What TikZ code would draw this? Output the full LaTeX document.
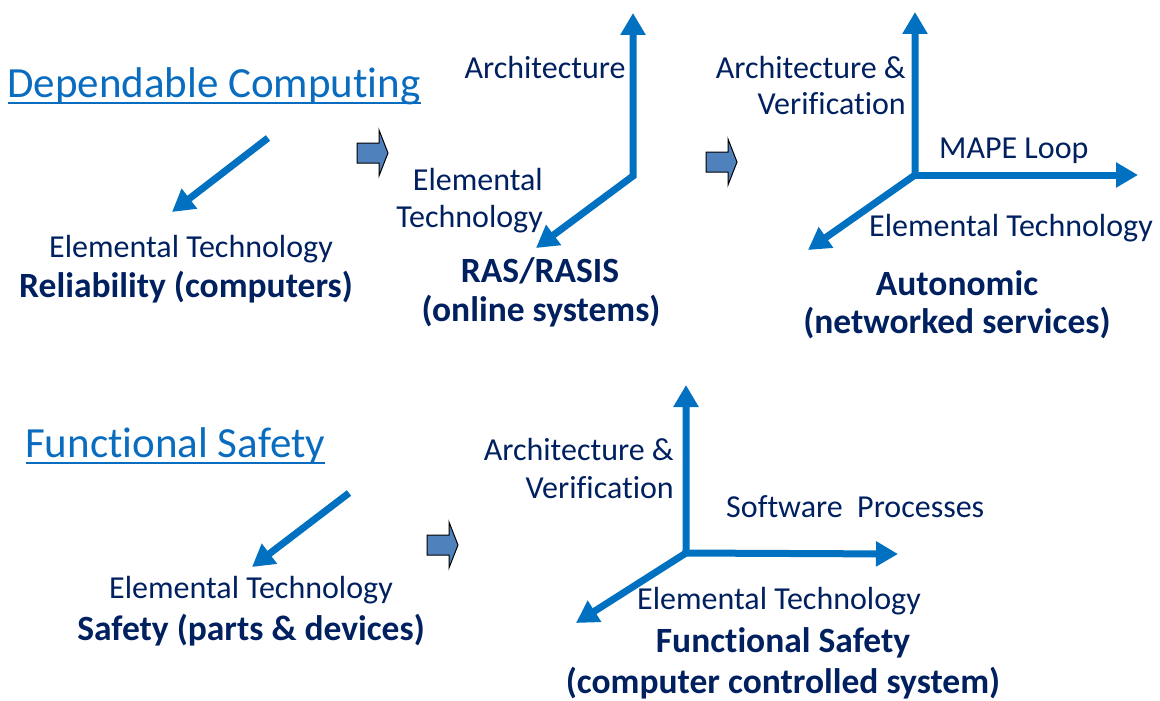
\documentclass[tikz,border=0pt]{standalone}
\usepackage{fontspec}
\setmainfont[Ligatures={NoCommon}]{Carlito}
\usetikzlibrary{arrows.meta,calc}
\definecolor{axisblue}{RGB}{0,112,192}
\definecolor{navy}{RGB}{0,32,96}
\definecolor{linkblue}{RGB}{10,108,190}
\definecolor{stepfill}{RGB}{79,129,189}
\begin{document}
\begin{tikzpicture}[x=1pt,y=-1pt,
  lbl/.style={text=navy, font=\fontsize{32}{38}\selectfont, inner sep=0pt},
  boldlbl/.style={text=navy, font=\fontsize{35.5}{42}\selectfont\bfseries, inner sep=0pt},
  title/.style={text=linkblue, font=\fontsize{43}{50}\selectfont, inner sep=0pt},
  uline/.style={draw=linkblue, line width=2.6pt},
  axis/.style={draw=axisblue, line width=7pt, line join=miter,
    arrows={-{Triangle[width=24pt,length=22pt]}}},
  axis2/.style={draw=axisblue, line width=7pt, line join=miter,
    arrows={{Triangle[width=24pt,length=22pt]}-{Triangle[width=24pt,length=22pt]}}},
  stepper/.style={draw=black, line width=1pt, fill=stepfill, line join=miter}]
\useasboundingbox (0,0) rectangle (1160,701);

% ---------- Dependable computing: three stages ----------
\node[title, anchor=base west] (t1) at (7,98) {Dependable Computing};
\draw[uline] ($(t1.base west)+(1,5)$) -- ($(t1.base east)+(0,5)$);

% stage 1: reliability
\coordinate (a1s) at (268,138);
\coordinate (a1e) at (172,212);
\draw[axis] (a1s) -- (a1e);
\node[lbl, anchor=base] (r1) at (191,257) {Elemental Technology};
\node[boldlbl, anchor=base] (r2) at (186,297) {Reliability (computers)};

% step arrow 1
\coordinate (s1) at (357,153);
\draw[stepper, shift={(s1)}] (0,-10) -- (22,-10) -- (22,-23) -- (31,0) -- (22,23) -- (22,10) -- (0,10) -- cycle;

% stage 2: RAS/RASIS
\coordinate (o2) at (633,176);
\coordinate (u2) at (633,13);
\coordinate (d2) at (536,248);
\draw[axis2] (u2) -- (o2) -- (d2);
\node[lbl, anchor=base] (ra) at (545,78) {Architecture};
\node[lbl, anchor=base east] (rb) at (543,190) {Elemental};
\node[lbl, anchor=base east] (rc) at (543,227) {Technology};
\node[boldlbl, anchor=base] (rd) at (540,282) {RAS/RASIS};
\node[boldlbl, anchor=base] (re) at (541,321) {(online systems)};

% step arrow 2
\coordinate (s2) at (706,162);
\draw[stepper, shift={(s2)}] (0,-10) -- (22,-10) -- (22,-23) -- (31,0) -- (22,23) -- (22,10) -- (0,10) -- cycle;

% stage 3: autonomic
\coordinate (o3) at (915,175);
\coordinate (u3) at (915,12);
\coordinate (h3) at (1138,175);
\coordinate (d3) at (808,250);
\draw[axis2] (u3) -- (o3) -- (d3);
\draw[axis] ($(o3)+(-3.5,0)$) -- (h3);
\node[lbl, anchor=base east] (aa) at (906,78) {Architecture \&};
\node[lbl, anchor=base east] (ab) at (906,114) {Verification};
\node[lbl, anchor=base west] (ac) at (939,158) {MAPE Loop};
\node[lbl, anchor=base west] (ad) at (869,236) {Elemental Technology};
\node[boldlbl, anchor=base] (ae) at (957,295) {Autonomic};
\node[boldlbl, anchor=base] (af) at (957,333) {(networked services)};

% ---------- Functional safety: two stages ----------
\node[title, anchor=base west] (t2) at (25,457) {Functional Safety};
\draw[uline] ($(t2.base west)+(1,6)$) -- ($(t2.base east)+(0,6)$);

% stage 1: safety of parts
\coordinate (a4s) at (349,493);
\coordinate (a4e) at (252,567);
\draw[axis] (a4s) -- (a4e);
\node[lbl, anchor=base] (fa) at (251,598) {Elemental Technology};
\node[boldlbl, anchor=base] (fb) at (251,640) {Safety (parts \& devices)};

% step arrow 3
\coordinate (s3) at (427,545);
\draw[stepper, shift={(s3)}] (0,-10) -- (22,-10) -- (22,-23) -- (31,0) -- (22,23) -- (22,10) -- (0,10) -- cycle;

% stage 2: functional safety of systems
\coordinate (o5) at (686,553);
\coordinate (u5) at (686,385);
\coordinate (h5) at (898,554);
\coordinate (d5) at (576,623);
\draw[axis2] (u5) -- (o5) -- (d5);
\draw[axis] ($(o5)+(-3.5,0)$) -- (h5);
\node[lbl, anchor=base east] (ga) at (674,460) {Architecture \&};
\node[lbl, anchor=base east] (gb) at (674,498) {Verification};
\node[lbl, anchor=base west] (gc) at (726,517) {Software~~Processes};
\node[lbl, anchor=base west] (gd) at (637,609) {Elemental Technology};
\node[boldlbl, anchor=base] (ge) at (783,652) {Functional Safety};
\node[boldlbl, anchor=base] (gf) at (783,693) {(computer controlled system)};
\end{tikzpicture}
\end{document}
